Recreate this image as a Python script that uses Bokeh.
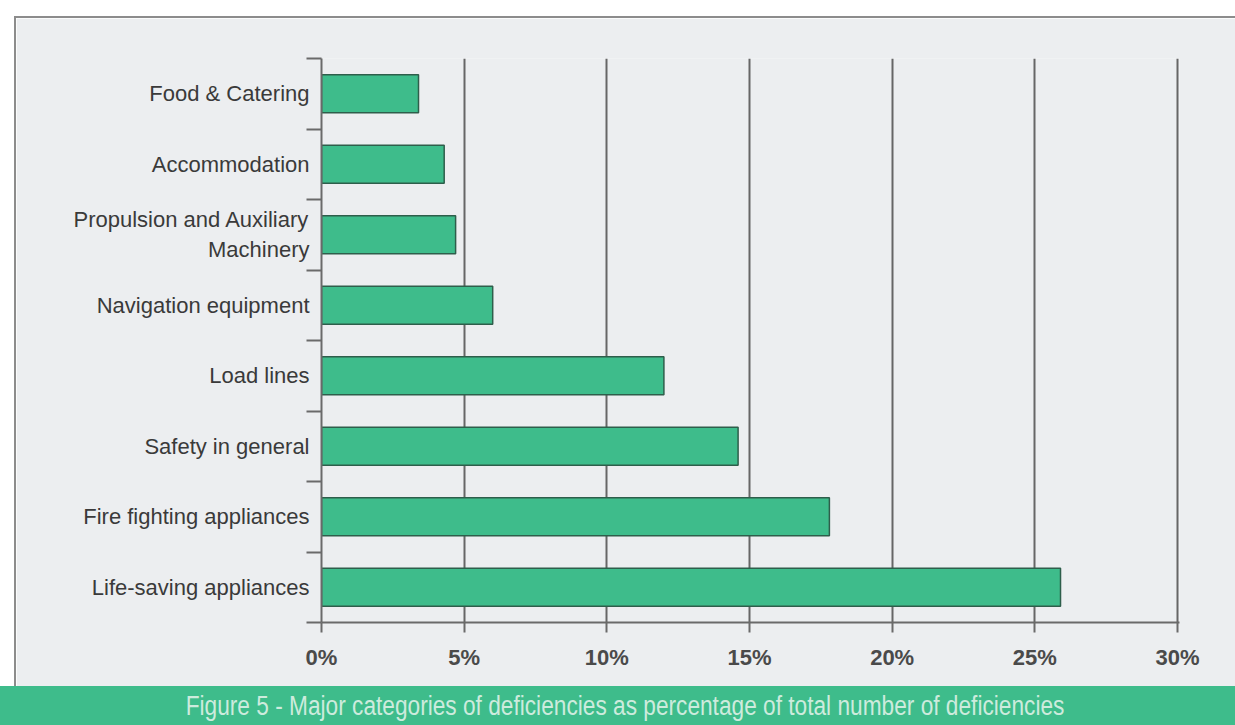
from bokeh.plotting import figure
from bokeh.models import FixedTicker, Range1d, Div
from bokeh.layouts import column, row
from bokeh.embed import file_html
from bokeh.resources import INLINE

# ---- data ----
categories = [
    "Life-saving appliances",
    "Fire fighting appliances",
    "Safety in general",
    "Load lines",
    "Navigation equipment",
    "Propulsion and Auxiliary\nMachinery",
    "Accommodation",
    "Food & Catering",
]
values = [25.9, 17.8, 14.6, 12.0, 6.0, 4.7, 4.3, 3.4]
x_ticks = [0, 5, 10, 15, 20, 25, 30]
x_tick_labels = ["0%", "5%", "10%", "15%", "20%", "25%", "30%"]
caption = "Figure 5 - Major categories of deficiencies as percentage of total number of deficiencies"

centers = [i + 0.5 for i in range(len(categories))]
boundaries = list(range(len(categories) + 1))

BG = "#eceef0"
GREEN = "#3ebc8b"
FRAME = "#8c8c8c"

p = figure(
    width=1219, height=668,
    x_range=Range1d(0, 30.07), y_range=Range1d(0, len(categories)),
    output_backend="svg", toolbar_location=None,
    min_border_left=305, min_border_right=56,
    min_border_top=40, min_border_bottom=64,
)
p.margin = 0
p.background_fill_color = BG
p.border_fill_color = BG
p.outline_line_color = None

p.hbar(y=centers, right=values, left=0, height=0.54,
       fill_color=GREEN, line_color="#2e5e4b", line_width=1.5)

# x axis
p.xaxis.ticker = FixedTicker(ticks=x_ticks)
p.xaxis.major_label_overrides = {t: l for t, l in zip(x_ticks, x_tick_labels)}
p.xaxis.major_tick_out = 10
p.xaxis.major_tick_in = 0
p.xaxis.minor_tick_line_color = None
p.xaxis.axis_line_color = "#6a6a6a"
p.xaxis.axis_line_width = 2
p.xaxis.major_tick_line_color = "#6a6a6a"
p.xaxis.major_tick_line_width = 2
p.xaxis.major_label_standoff = 12
p.xaxis.major_label_text_font = "Liberation Sans"
p.xaxis.major_label_text_font_style = "bold"
p.xaxis.major_label_text_font_size = "22px"
p.xaxis.major_label_text_color = "#4a4a4a"

# y axis
p.yaxis.ticker = FixedTicker(ticks=centers, minor_ticks=boundaries)
p.yaxis.major_label_overrides = {c: l for c, l in zip(centers, categories)}
p.yaxis.major_tick_out = 0
p.yaxis.major_tick_in = 0
p.yaxis.minor_tick_out = 15
p.yaxis.minor_tick_in = 0
p.yaxis.minor_tick_line_color = "#6a6a6a"
p.yaxis.minor_tick_line_width = 2
p.yaxis.axis_line_color = "#6a6a6a"
p.yaxis.axis_line_width = 2
p.yaxis.major_label_standoff = -3
p.yaxis.major_label_text_font = "Liberation Sans"
p.yaxis.major_label_text_font_size = "22px"
p.yaxis.major_label_text_color = "#3a3a3a"

p.xgrid.ticker = FixedTicker(ticks=x_ticks[1:])
p.xgrid.grid_line_color = "#666666"
p.xgrid.grid_line_width = 2
p.ygrid.grid_line_color = None

# page frame: white margins, grey border, green caption banner
top_white = Div(width=1235, height=16, margin=0, styles={"background-color": "white"})
left_white = Div(width=14, height=670, margin=0, styles={"background-color": "white"})
left_line = Div(width=2, height=670, margin=0, styles={"background-color": FRAME})
top_line = Div(width=1219, height=2, margin=0, styles={"background-color": FRAME})
banner = Div(
    text=('<div style="width:1235px;text-align:center;line-height:41px;padding-left:16px;box-sizing:border-box;">'
          '<span style="display:inline-block;transform:scaleX(0.84);'
          'font-family:\'Liberation Sans\',sans-serif;'
          'font-size:27px;color:#cdebdd;white-space:nowrap;">' + caption + '</span></div>'),
    width=1235, height=39, margin=0,
    styles={"background-color": GREEN, "overflow": "hidden"},
)
inner = column(top_line, p, spacing=0, margin=0)
mid = row(left_white, left_line, inner, spacing=0, margin=0)
layout = column(top_white, mid, banner, spacing=0, margin=0)

open("out.html", "w").write(file_html(layout, INLINE))
